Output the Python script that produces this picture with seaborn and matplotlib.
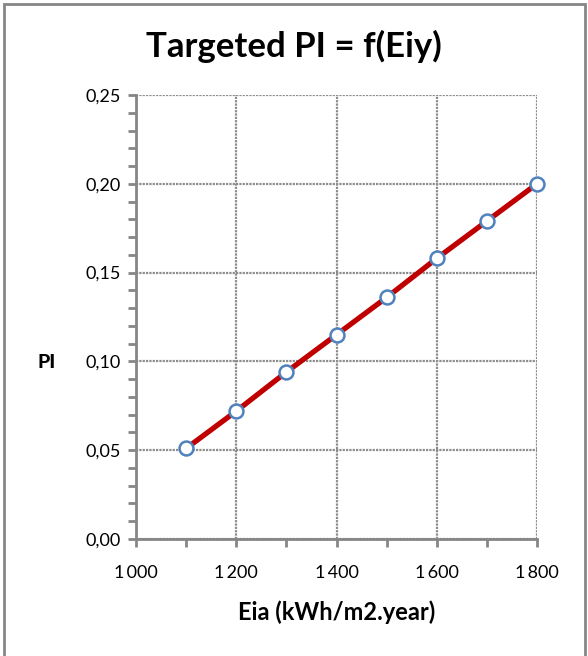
import matplotlib
matplotlib.use("Agg")
import matplotlib.pyplot as plt
import matplotlib.ticker as mticker
from matplotlib.patches import Rectangle
import seaborn as sns
import pandas as pd

# Annual irradiation and the targeted PI at each level
eia = [1100, 1200, 1300, 1400, 1500, 1600, 1700, 1800]
targeted_pi = [0.051, 0.072, 0.094, 0.115, 0.136, 0.158, 0.179, 0.200]

x_ticks = [1000, 1200, 1400, 1600, 1800]
x_tick_labels = ["1\u2009000", "1\u2009200", "1\u2009400", "1\u2009600", "1\u2009800"]
y_ticks = [0.00, 0.05, 0.10, 0.15, 0.20, 0.25]
y_tick_labels = ["0,00", "0,05", "0,10", "0,15", "0,20", "0,25"]

df = pd.DataFrame({"Eia": eia, "PI": targeted_pi})

sns.set_style("white")
plt.rcParams["font.family"] = ["Lato", "DejaVu Sans"]
plt.rcParams["text.color"] = "black"

fig = plt.figure(figsize=(5.88, 6.56), dpi=100)
ax = fig.add_axes([136 / 588, 1 - 539 / 656, (537 - 136) / 588, (539 - 95) / 656])

sns.lineplot(data=df, x="Eia", y="PI", ax=ax, color="#C00000", linewidth=3.8,
             marker="o", markersize=10, markerfacecolor="white",
             markeredgecolor="#4F81BD", markeredgewidth=1.8, zorder=5, clip_on=False)

ax.set_xlim(1000, 1800)
ax.set_ylim(0, 0.25)
ax.set_xticks(x_ticks)
ax.set_xticklabels(x_tick_labels)
ax.set_yticks(y_ticks)
ax.set_yticklabels(y_tick_labels)
ax.xaxis.set_minor_locator(mticker.MultipleLocator(100))
ax.yaxis.set_minor_locator(mticker.MultipleLocator(0.01))

ax.grid(True, which="major", color="#8C8C8C", linestyle=(0, (1, 0.5)), linewidth=1.6)
ax.grid(False, which="minor")
ax.set_axisbelow(True)

for side in ("top", "right"):
    ax.spines[side].set_visible(False)
for side in ("left", "bottom"):
    ax.spines[side].set_color("#868686")
    ax.spines[side].set_linewidth(2)

ax.tick_params(axis="both", which="both", direction="out", color="#868686",
               bottom=True, left=True, width=2, length=6,
               labelsize=13, labelcolor="black")
ax.tick_params(axis="y", which="major", pad=5)
ax.tick_params(axis="x", which="major", pad=13)

ax.set_xlabel("Eia (kWh/m2.year)", fontsize=17, fontweight="bold", labelpad=14,
              color="black")
ax.set_ylabel("")
fig.text(47 / 588, 1 - 362 / 656, "PI", fontsize=14, fontweight="black",
         ha="center", va="center", color="black")
fig.text(0.5, 1 - 46 / 656, "Targeted PI = f(Eiy)", fontsize=25, fontweight="bold",
         ha="center", va="center", color="black")

fig.patches.append(Rectangle((3.5 / 588, -0.02), (585 - 3.5) / 588, 1 - 3.5 / 656 + 0.02,
                             transform=fig.transFigure, fill=False,
                             edgecolor="#868686", linewidth=2))

fig.savefig("out.png", dpi=100, facecolor="white")
